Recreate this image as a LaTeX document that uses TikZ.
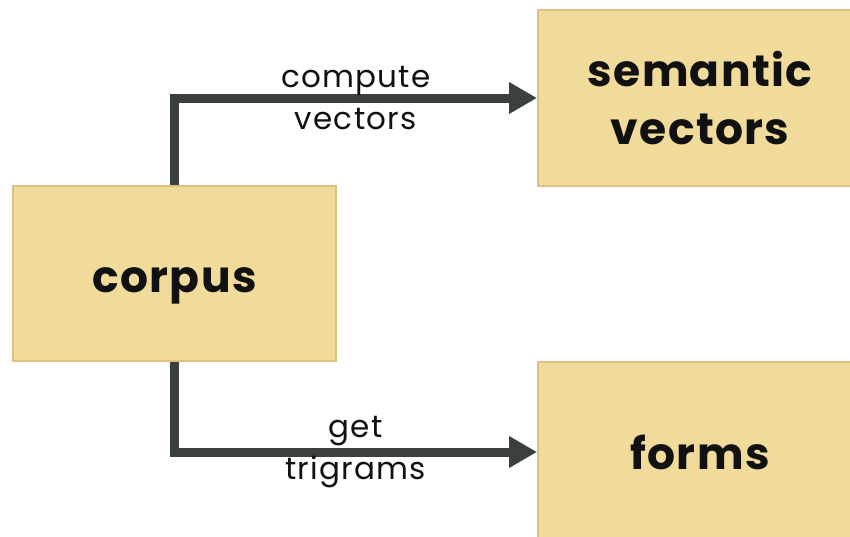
\documentclass[tikz,border=0pt]{standalone}
\usepackage{fontspec}
\setmainfont{Poppins}
\usetikzlibrary{arrows.meta}
\definecolor{boxfill}{HTML}{F1DB9B}
\definecolor{boxline}{HTML}{DDBF80}
\definecolor{arrowc}{HTML}{3A4040}
\definecolor{txt}{HTML}{111111}
\tikzset{
  box/.style={draw=boxline, line width=2pt, fill=boxfill, inner sep=0pt,
    align=center, text=txt, font=\fontsize{44}{58}\selectfont\bfseries\addfontfeatures{LetterSpace=3}},
  conn/.style={draw=arrowc, line width=9pt, -{Triangle[length=28pt,width=30pt]}},
  elabel/.style={align=center, text=txt, font=\fontsize{31}{42}\selectfont\addfontfeatures{LetterSpace=4}}
}
\begin{document}
\begin{tikzpicture}[x=1pt,y=-1pt]
\useasboundingbox (0,0) rectangle (850,536);
\clip (0,0) rectangle (850,536);
\node[box, minimum width=323pt, minimum height=175pt, text height=37pt, text depth=0pt] (corpus) at (174.5,273.5) {corpus};
\node[box, minimum width=324pt, minimum height=176pt] (sem) at (700,98) {semantic\\vectors};
\node[box, minimum width=324pt, minimum height=180pt] (forms) at (700,452) {forms};
\draw[conn] (corpus.north) |- node[elabel, pos=0.75] {compute\\vectors} (sem.west);
\draw[conn] (corpus.south) |- node[elabel, pos=0.75] {get\\trigrams} (forms.west);
\end{tikzpicture}
\end{document}
